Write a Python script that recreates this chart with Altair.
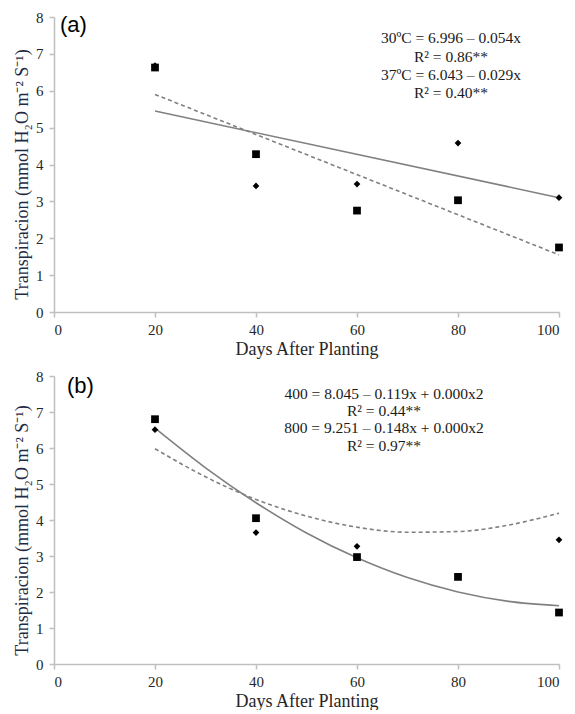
import altair as alt
import pandas as pd

# ---- data ----
days = [20, 40, 60, 80, 100]
a_30c = [6.63, 4.28, 2.75, 3.03, 1.75]      # squares, panel (a)
a_37c = [6.68, 3.42, 3.47, 4.58, 3.10]      # diamonds, panel (a)
b_800 = [6.80, 4.05, 2.97, 2.42, 1.43]      # squares, panel (b)
b_400_days = [20, 40, 60, 100]
b_400 = [6.51, 3.65, 3.27, 3.45]            # diamonds, panel (b)

trend_a_days = [20, 100]
trend_a_30c = [5.90, 1.55]                  # dashed
trend_a_37c = [5.45, 3.10]                  # solid
trend_b_days = [20, 30, 40, 50, 60, 70, 80, 90, 100]
trend_b_800 = [6.55, 5.45, 4.48, 3.64, 2.95, 2.40, 2.00, 1.74, 1.62]   # solid
trend_b_400 = [5.98, 5.20, 4.57, 4.11, 3.80, 3.66, 3.68, 3.86, 4.19]   # dashed

eq_a = ["30ºC = 6.996 – 0.054x", "R² = 0.86**", "37ºC = 6.043 – 0.029x", "R² = 0.40**"]
eq_b = ["400 = 8.045 – 0.119x + 0.000x2", "R² = 0.44**", "800 = 9.251 – 0.148x + 0.000x2", "R² = 0.97**"]

x_ticks = [0, 20, 40, 60, 80, 100]
y_ticks = [0, 1, 2, 3, 4, 5, 6, 7, 8]
x_title = "Days After Planting"
y_title = "Transpiracion (mmol H₂O m⁻² S⁻¹)"

SERIF = "Liberation Serif"
GRAY = "#808080"
AXIS_GRAY = "#bfbfbf"
W = 505


def df(xs, ys):
    return pd.DataFrame({"x": xs, "y": ys})


def enc(h, title_y):
    x = alt.X("x:Q", scale=alt.Scale(domain=[0, 100], nice=False),
              axis=alt.Axis(values=x_ticks, title=x_title, grid=False,
                            domainColor=AXIS_GRAY, domainWidth=1.5,
                            tickColor=AXIS_GRAY, tickWidth=1.5, tickSize=5,
                            labelFont=SERIF, labelFontSize=15, labelColor="#262626",
                            labelPadding=5,
                            titleFont=SERIF, titleFontSize=18, titleFontWeight="normal",
                            titleColor="#262626", titlePadding=3))
    y = alt.Y("y:Q", scale=alt.Scale(domain=[0, 8], nice=False),
              axis=alt.Axis(values=y_ticks, title=y_title, grid=False,
                            domainColor=AXIS_GRAY, domainWidth=1.5,
                            tickColor=AXIS_GRAY, tickWidth=1.5, tickSize=5,
                            labelFont=SERIF, labelFontSize=15, labelColor="#262626",
                            labelPadding=6,
                            titleFont=SERIF, titleFontSize=18, titleFontWeight="normal",
                            titleColor="#1f2a44", titlePadding=4, titleY=title_y))
    return x, y


def panel(tag, tag_pos, sq_x, sq_y, di_x, di_y, t_x, solid_y, dashed_y, eq, eq_x, eq_ys, h, title_y):
    x, y = enc(h, title_y)
    interp = "monotone" if len(t_x) > 2 else "linear"
    solid = alt.Chart(df(t_x, solid_y)).mark_line(
        color=GRAY, strokeWidth=1.6, interpolate=interp).encode(x=x, y=y)
    dashed = alt.Chart(df(t_x, dashed_y)).mark_line(
        color=GRAY, strokeWidth=1.6, strokeDash=[4, 3], interpolate=interp).encode(x=x, y=y)
    dia = alt.Chart(df(di_x, di_y)).mark_point(
        shape="diamond", filled=True, color="black", size=45, opacity=1).encode(x=x, y=y)
    sq = alt.Chart(df(sq_x, sq_y)).mark_point(
        shape="square", filled=True, color="black", size=60, opacity=1).encode(x=x, y=y)
    layers = [solid, dashed, dia, sq]
    for line, yy in zip(eq, eq_ys):
        layers.append(
            alt.Chart(pd.DataFrame({"t": [line]})).mark_text(
                font=SERIF, fontSize=15.5, color="#1a1a1a", align="center", baseline="middle"
            ).encode(text="t:N", x=alt.value(eq_x), y=alt.value(yy))
        )
    layers.append(
        alt.Chart(pd.DataFrame({"t": [tag]})).mark_text(
            font="Liberation Sans", fontSize=22, color="black", align="left", baseline="middle"
        ).encode(text="t:N", x=alt.value(tag_pos[0]), y=alt.value(tag_pos[1]))
    )
    return alt.layer(*layers).properties(width=W, height=h)


top = panel("(a)", (6, 8), days, a_30c, days, a_37c, trend_a_days, trend_a_37c, trend_a_30c,
            eq_a, 397, [21, 40, 58, 76], 295, 157)
bottom = panel("(b)", (13, 10), days, b_800, b_400_days, b_400, trend_b_days, trend_b_800,
               trend_b_400, eq_b, 330, [18, 35, 52, 70], 288, 154)

chart = alt.vconcat(top, bottom, spacing=11).properties(
    padding={"left": 5, "top": 2, "right": 0, "bottom": 0}
).configure_view(stroke=None)

chart.save("out.html", embed_options={"renderer": "svg", "actions": False})
